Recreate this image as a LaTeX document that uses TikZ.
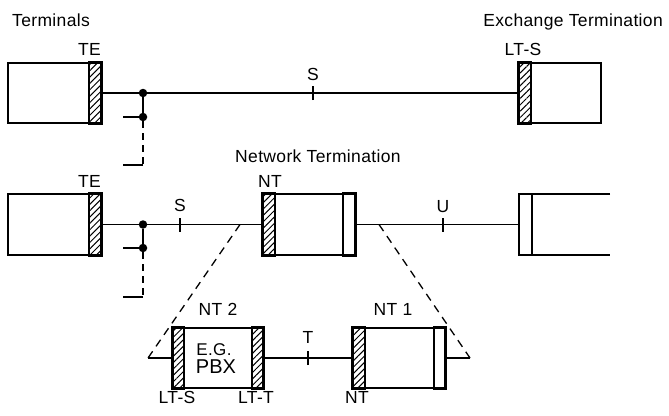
\documentclass[tikz,border=0pt]{standalone}
\usepackage{fontspec}
\setmainfont{Liberation Sans}[LetterSpace=2]
\usetikzlibrary{patterns.meta}
\tikzset{
  box/.style={draw, line width=2.2pt, minimum width=#1, minimum height=60pt, inner sep=0pt},
  hatchstrip/.style={draw, line width=2.2pt, pattern={Lines[angle=45,distance=4.5pt,line width=1pt]}},
  plainstrip/.style={draw, line width=2.2pt},
  conn/.style={line width=1.3pt},
  zoomline/.style={line width=1.3pt, dash pattern=on 8pt off 6pt},
  stubdash/.style={line width=1.3pt, dash pattern=on 7pt off 5pt},
  dot/.style={circle, fill, inner sep=0pt, minimum size=8.5pt},
  tickmark/.style={line width=1.5pt},
  lbl/.style={font=\fontsize{17.5}{20}\selectfont, inner sep=0pt},
}
\begin{document}
\begin{tikzpicture}[x=1pt,y=-1pt]
\useasboundingbox (0,0) rectangle (669,415);

% ---- titles
\node[lbl, anchor=base west] (terms) at (12,27) {Terminals};
\node[lbl, anchor=base east] (exch) at (663,27) {Exchange Termination};
\node[lbl, anchor=base west] (netterm) at (235,162) {Network Termination};

% ---- row 1
\node[box=93] (te1) at (54.5,93) {};
\draw[hatchstrip] (te1.north east) rectangle ([xshift=-13pt]te1.south east);
\node[lbl, anchor=base east] (te1l) at (101,55) {TE};

\node[box=82] (lts1) at (560,93) {};
\draw[hatchstrip] (lts1.north west) rectangle ([xshift=13pt]lts1.south west);
\node[lbl, anchor=base] (lts1l) at (523,55) {LT-S};

\draw[conn] (te1.east) -- (lts1.west);
\node[dot] (j1) at (143,93) {};
\node[dot] (j2) at (143,117) {};
\coordinate (s1) at (123,117);
\coordinate (d1) at (143,165);
\coordinate (d1e) at (123,165);
\draw[conn] (j1) -- (j2);
\draw[conn] (s1) -- (j2);
\draw[stubdash] (j2) -- (d1);
\draw[conn] (d1) -- (d1e);

\coordinate (tS1) at (313,93);
\draw[tickmark] ([yshift=-7pt]tS1) -- ([yshift=7pt]tS1);
\node[lbl, anchor=base] (S1l) at (313,80) {S};

% ---- row 2
\node[box=93, minimum height=61pt] (te2) at (54.5,224.5) {};
\draw[hatchstrip] (te2.north east) rectangle ([xshift=-13pt]te2.south east);
\node[lbl, anchor=base east] (te2l) at (101,187) {TE};

\node[box=92, minimum height=61pt] (nt) at (309,224.5) {};
\draw[hatchstrip] (nt.north west) rectangle ([xshift=13pt]nt.south west);
\draw[plainstrip] (nt.north east) rectangle ([xshift=-13pt]nt.south east);
\node[lbl, anchor=base] (ntl) at (270,187) {NT};

\node[minimum width=91pt, minimum height=61pt, inner sep=0pt] (ex2) at (564.5,224.5) {};
\draw[line width=2.2pt] (ex2.north east) -- (ex2.north west) -- (ex2.south west) -- (ex2.south east);
\draw[line width=2.2pt] ([xshift=13pt]ex2.north west) -- ([xshift=13pt]ex2.south west);

\draw[conn] (te2.east) -- (nt.west);
\draw[conn] (nt.east) -- (ex2.west);
\node[dot] (j3) at (143,224.5) {};
\node[dot] (j4) at (143,248) {};
\coordinate (s2) at (123,248);
\coordinate (d2) at (143,297);
\coordinate (d2e) at (123,297);
\draw[conn] (j3) -- (j4);
\draw[conn] (s2) -- (j4);
\draw[stubdash] (j4) -- (d2);
\draw[conn] (d2) -- (d2e);

\coordinate (tS2) at (180,224.5);
\draw[tickmark] ([yshift=-7pt]tS2) -- ([yshift=7pt]tS2);
\node[lbl, anchor=base] (S2l) at (180,211) {S};

\coordinate (tU) at (443,224.5);
\draw[tickmark] ([yshift=-7pt]tU) -- ([yshift=7pt]tU);
\node[lbl, anchor=base] (Ul) at (443,212) {U};

% ---- row 3
\node[box=90] (nt2) at (218,358) {};
\draw[hatchstrip] (nt2.north west) rectangle ([xshift=12pt]nt2.south west);
\draw[hatchstrip] (nt2.north east) rectangle ([xshift=-12pt]nt2.south east);
\node[lbl, anchor=base] (nt2l) at (218,315) {NT 2};
\node[lbl, anchor=base, font=\fontsize{17}{18}\selectfont] (eg) at (214,355) {E.G.};
\node[anchor=base, inner sep=0pt, font=\fontsize{20}{22}\selectfont\addfontfeatures{LetterSpace=0}] (pbx) at (216,373) {PBX};

\node[box=92] (nt1) at (399,358) {};
\draw[hatchstrip] (nt1.north west) rectangle ([xshift=13pt]nt1.south west);
\draw[plainstrip] (nt1.north east) rectangle ([xshift=-12pt]nt1.south east);
\node[lbl, anchor=base] (nt1l) at (393,315) {NT 1};

\draw[conn] (nt2.east) -- (nt1.west);
\coordinate (tT) at (308,358);
\draw[tickmark] ([yshift=-7pt]tT) -- ([yshift=7pt]tT);
\node[lbl, anchor=base] (Tl) at (308,343) {T};

\node[lbl, anchor=base] (ltsb) at (177,403) {LT-S};
\node[lbl, anchor=base] (lttb) at (256,403) {LT-T};
\node[lbl, anchor=base] (ntb) at (357,403) {NT};

% ---- zoom lines
\coordinate (z1) at (240,224.5);
\coordinate (z2) at (148,358);
\coordinate (z3) at (379,224.5);
\coordinate (z4) at (470,358);
\draw[zoomline] (z1) -- (z2);
\draw[conn] (z2) -- (nt2.west);
\draw[zoomline] (z3) -- (z4);
\draw[conn] (z4) -- (nt1.east);
\end{tikzpicture}
\end{document}
